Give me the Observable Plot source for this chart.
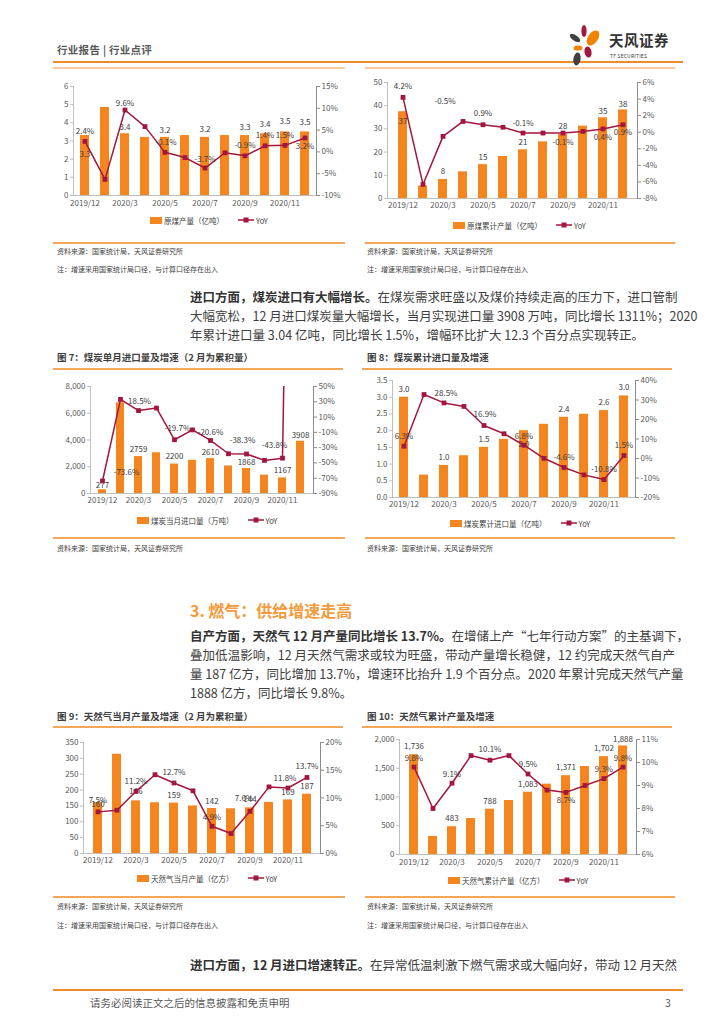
<!DOCTYPE html>
<html><head><meta charset="utf-8">
<script src="https://cdn.jsdelivr.net/npm/d3@7"></script>
<script src="https://cdn.jsdelivr.net/npm/@observablehq/plot@0.6"></script>
<style>
body{margin:0;background:#fff;font-family:"Noto Sans CJK SC","Noto Sans",sans-serif;}
#page{position:relative;width:724px;height:1024px;overflow:hidden;background:#fff;}
.lg{position:absolute;display:flex;align-items:center;font-size:7.5px;color:#404040;white-space:nowrap;}
</style></head>
<body><div id="page"></div>
<script>
// ---------- data ----------
const months = ["2019/12","2020/2","2020/3","2020/4","2020/5","2020/6","2020/7","2020/8","2020/9","2020/10","2020/11","2020/12"];
const tickMonths = ["2019/12","2020/3","2020/5","2020/7","2020/9","2020/11"];

const coalOutput    = [3.3,4.85,3.4,3.2,3.2,3.3,3.2,3.3,3.3,3.4,3.5,3.5];
const coalOutputYoY = [2.4,-6.3,9.6,5.8,-0.1,-1.3,-3.7,-0.2,-0.9,1.4,1.5,3.2];
const coalOutputTicks = [0,1,2,3,4,5,6];
const coalOutputYoYTicks = [-10,-5,0,5,10,15];

const coalCum    = [37.4,5.4,8.2,11.5,14.6,18.1,21.0,24.4,27.6,31.2,34.8,38.2];
const coalCumYoY = [4.2,-6.3,-0.5,1.3,0.9,0.6,-0.1,-0.1,-0.1,0.1,0.4,0.9];
const coalCumTicks = [0,10,20,30,40,50];
const coalCumYoYTicks = [-8,-6,-4,-2,0,2,4,6];

const coalImport    = [277,6780,2759,3050,2200,2480,2610,2060,1868,1370,1167,3908];
const coalImportYoY = [-73.6,33.1,18.5,21.8,-19.7,-6.8,-20.6,-38.0,-38.3,-46.7,-43.8,1311];
const coalImportTicks = [0,2000,4000,6000,8000];
const coalImportYoYTicks = [-90,-70,-50,-30,-10,10,30,50];

const coalImpCum    = [3.0,0.67,0.96,1.25,1.5,1.74,2.0,2.19,2.4,2.49,2.6,3.04];
const coalImpCumYoY = [6.3,32.8,28.5,26.7,16.9,12.7,6.8,0.1,-4.6,-8.4,-10.8,1.5];
const coalImpCumTicks = [0,0.5,1,1.5,2,2.5,3,3.5];
const coalImpCumYoYTicks = [-20,-10,0,10,20,30,40];

const gasOutput    = [160,313,166,160,159,150,142,141,144,161,169,187];
const gasOutputYoY = [7.5,7.8,11.2,14.2,12.7,11.3,4.9,3.6,7.6,12.0,11.8,13.7];
const gasOutputTicks = [0,50,100,150,200,250,300,350];
const gasOutputYoYTicks = [0,5,10,15,20];

const gasCum    = [1736,313,483,626,788,939,1083,1223,1371,1530,1702,1888];
const gasCumYoY = [9.8,8.0,9.1,10.3,10.1,10.3,9.5,8.8,8.7,9.0,9.3,9.8];
const gasCumTicks = [0,500,1000,1500,2000];
const gasCumYoYTicks = [6,7,8,9,10,11];

// ---------- styles ----------
const ORANGE = "#F5861F";
const RED = "#A3163D";
const FONT = "'Noto Sans CJK SC','Noto Sans',sans-serif";
const page = document.getElementById("page");

function el(tag, css, html){const e=document.createElement(tag);e.style.cssText="position:absolute;"+css;if(html!=null)e.innerHTML=html;page.appendChild(e);return e;}
function txt(x,y,s,size,color,extra=""){const lh=size*1.3;return el("div",`left:${x}px;top:${y-lh/2}px;font-size:${size}px;line-height:${lh}px;color:${color};white-space:nowrap;${extra}`,s);}
function hline(x1,x2,y,w,color){el("div",`left:${x1}px;top:${y-w/2}px;width:${x2-x1}px;height:${w}px;background:${color}`);}
function para(x,y,w,html,justify){const lh=16;return el("div",`left:${x}px;top:${y-lh/2}px;width:${w}px;font-size:12.5px;line-height:${lh}px;color:#404040;white-space:nowrap;${justify?"text-align:justify;text-align-last:justify;":""}`,html);}

// ---------- header ----------
txt(57,50,"行业报告&nbsp;|&nbsp;行业点评",10.5,"#595959","font-weight:bold;letter-spacing:0.3px");
hline(53,683,62,2,"#EE8A2A");
el("div","left:568px;top:22px;width:40px;height:46px",
 `<svg width="40" height="46" viewBox="0 0 40 46">
  <ellipse cx="16" cy="9" rx="2.6" ry="6" fill="#A3163D"/>
  <ellipse cx="7" cy="16" rx="2.8" ry="6" fill="#404040" transform="rotate(-55 7 16)"/>
  <ellipse cx="25" cy="16" rx="5" ry="8.5" fill="#F08300" transform="rotate(35 25 16)"/>
  <ellipse cx="10" cy="26" rx="4.5" ry="2.6" fill="#F08300"/>
  <ellipse cx="9" cy="37" rx="3.6" ry="6.5" fill="#404040" transform="rotate(10 9 37)"/>
  <ellipse cx="20" cy="30" rx="3.5" ry="5.5" fill="#A3163D" transform="rotate(-10 20 30)"/>
 </svg>`);
txt(609,40,"天风证券",14.5,"#333","font-weight:bold;letter-spacing:0.5px");
txt(610,56,"TF SECURITIES",5,"#333","letter-spacing:0.2px");

// panel top lines
hline(53,345,68,1.5,"#F9C9A0");
hline(365,675,68,1.5,"#F9C9A0");

// ---------- chart builder ----------
function dualChart(c){
  const data = months.map((m,i)=>({m,i,v:c.bars[i],r:c.yoy[i]}));
  const common = {width:c.w,height:c.h,marginTop:c.mt,marginRight:c.mr,marginBottom:c.mb,marginLeft:c.ml,
    style:{fontFamily:FONT,fontSize:"8px",color:"#595959",background:"transparent",overflow:"visible"}};
  const xs = {type:"band",domain:months,paddingInner:0.55,paddingOuter:0.3,label:null};
  const barPlot = Plot.plot({...common,
    x:{...xs}, y:{domain:c.yDomain,label:null},
    marks:[
      Plot.barY(data,{x:"m",y:"v",fill:ORANGE}),
      Plot.frame({anchor:"bottom",stroke:"#bfbfbf"}),
      Plot.frame({anchor:"left",stroke:"#bfbfbf"}),
      Plot.axisY({ticks:c.yTicks,tickFormat:c.yFmt,tickSize:3,tickPadding:2,label:null,stroke:"#bfbfbf"}),
      Plot.axisX({ticks:tickMonths,tickSize:0,tickPadding:c.xPad,label:null}),
      ...c.barLabels.map(l=>Plot.text([data[l.i]],{x:"m",y:"v",text:d=>c.barFmt(d.v),dy:l.dy,dx:l.dx||0,fill:"#404040",fontSize:8}))
    ]});
  const linePlot = Plot.plot({...common,
    x:{...xs,axis:null}, y:{domain:c.rDomain,label:null},
    marks:[
      Plot.axisY({anchor:"right",ticks:c.rTicks,tickFormat:d=>d+"%",tickSize:3,tickPadding:2,label:null,stroke:"#8c8c8c"}),
      Plot.frame({anchor:"right",stroke:"#8c8c8c"}),
      Plot.line(data,{x:"m",y:"r",stroke:RED,strokeWidth:1.5,clip:true}),
      Plot.dot(data,{x:"m",y:"r",symbol:"square",r:2.7,fill:RED,clip:true}),
      ...c.yoyLabels.map(l=>Plot.text([data[l.i]],{x:"m",y:"r",text:d=>d.r.toFixed(1)+"%",dy:l.dy,dx:l.dx||0,fill:"#404040",fontSize:8}))
    ]});
  const box = el("div",`left:${c.left}px;top:${c.top}px;width:${c.w}px;height:${c.h}px`);
  for(const p of [barPlot,linePlot]){p.style.position="absolute";p.style.left="0";p.style.top="0";box.appendChild(p);}
  // legend
  const lg = el("div",`left:${c.lx}px;top:${c.ly-6}px;height:12px`);
  lg.className="lg";
  lg.innerHTML = `<span style="display:inline-block;width:12px;height:7px;background:${ORANGE};margin-right:2px"></span><span>${c.legend}</span>`+
   `<svg width="16" height="8" style="margin-left:14px;margin-right:2px"><line x1="0" y1="4" x2="16" y2="4" stroke="${RED}" stroke-width="1.5"/><rect x="5.5" y="1.5" width="5" height="5" fill="${RED}"/></svg><span>YoY</span>`;
}

const f1 = d3.format(".1f"), f0 = d3.format(".0f"), fc = d3.format(",");

// Chart 1
dualChart({left:40,top:75,w:320,h:140,mt:11,mr:44,mb:20,ml:33,xPad:5,
  bars:coalOutput,yoy:coalOutputYoY,yDomain:[0,6],yTicks:coalOutputTicks,yFmt:f0,
  rDomain:[-10,15],rTicks:coalOutputYoYTicks,barFmt:f1,
  barLabels:[{i:0,dy:19},{i:2,dy:-6},{i:4,dy:-7},{i:6,dy:-8},{i:8,dy:-8},{i:9,dy:-9},{i:10,dy:-10},{i:11,dy:-9}],
  yoyLabels:[{i:0,dy:-10},{i:2,dy:-7},{i:4,dy:-10,dx:1},{i:6,dy:-9},{i:8,dy:-10},{i:9,dy:-10},{i:10,dy:-10},{i:11,dy:8}],
  legend:"原煤产量（亿吨）",lx:150,ly:220});

// Chart 2
dualChart({left:360,top:75,w:320,h:140,mt:7,mr:43,mb:17,ml:27,xPad:4,
  bars:coalCum,yoy:coalCumYoY,yDomain:[0,50],yTicks:coalCumTicks,yFmt:f0,
  rDomain:[-8,6],rTicks:coalCumYoYTicks,barFmt:f0,
  barLabels:[{i:0,dy:10},{i:2,dy:-8},{i:4,dy:-7},{i:6,dy:-7},{i:8,dy:-8},{i:10,dy:-6},{i:11,dy:-5}],
  yoyLabels:[{i:0,dy:-11},{i:2,dy:-35,dx:2},{i:4,dy:-11},{i:6,dy:-10},{i:8,dy:9},{i:10,dy:9},{i:11,dy:8}],
  legend:"原煤累计产量（亿吨）",lx:453,ly:225});

// Chart 7
dualChart({left:40,top:378,w:320,h:135,mt:8,mr:47,mb:20,ml:50,xPad:4,
  bars:coalImport,yoy:coalImportYoY,yDomain:[0,8000],yTicks:coalImportTicks,yFmt:fc,
  rDomain:[-90,50],rTicks:coalImportYoYTicks,barFmt:f0,
  barLabels:[{i:0,dy:-4},{i:2,dy:-7},{i:4,dy:-8},{i:6,dy:-6},{i:8,dy:-6},{i:10,dy:-7},{i:11,dy:-6}],
  yoyLabels:[{i:0,dy:-9,dx:24},{i:2,dy:-9,dx:1},{i:4,dy:-11,dx:3},{i:6,dy:-8},{i:8,dy:-14,dx:-4},{i:10,dy:-13,dx:-8}],
  legend:"煤炭当月进口量（万吨）",lx:137,ly:520});

// Chart 8
dualChart({left:360,top:373,w:320,h:145,mt:7,mr:45,mb:21,ml:32,xPad:4,
  bars:coalImpCum,yoy:coalImpCumYoY,yDomain:[0,3.5],yTicks:coalImpCumTicks,yFmt:f1,
  rDomain:[-20,40],rTicks:coalImpCumYoYTicks,barFmt:f1,
  barLabels:[{i:0,dy:-8},{i:2,dy:-8},{i:4,dy:-8},{i:6,dy:14},{i:8,dy:-8},{i:10,dy:-8},{i:11,dy:-8}],
  yoyLabels:[{i:0,dy:-10},{i:2,dy:-9,dx:2},{i:4,dy:-11,dx:1},{i:6,dy:-9},{i:8,dy:-10},{i:10,dy:-10},{i:11,dy:-10}],
  legend:"煤炭累计进口量（亿吨）",lx:450,ly:523});

// Chart 9
dualChart({left:40,top:735,w:320,h:140,mt:7,mr:40,mb:22,ml:43,xPad:4,
  bars:gasOutput,yoy:gasOutputYoY,yDomain:[0,350],yTicks:gasOutputTicks,yFmt:f0,
  rDomain:[0,20],rTicks:gasOutputYoYTicks,barFmt:f0,
  barLabels:[{i:0,dy:2},{i:2,dy:-9},{i:4,dy:-8},{i:6,dy:-7},{i:8,dy:-8},{i:10,dy:-7},{i:11,dy:-8}],
  yoyLabels:[{i:0,dy:-11},{i:2,dy:-10},{i:4,dy:-11},{i:6,dy:-9},{i:8,dy:-13,dx:-6},{i:10,dy:-10,dx:-3},{i:11,dy:-11}],
  legend:"天然气当月产量（亿方）",lx:137,ly:878});

// Chart 10
dualChart({left:360,top:732,w:320,h:145,mt:7,mr:44,mb:23,ml:39,xPad:5,
  bars:gasCum,yoy:gasCumYoY,yDomain:[0,2000],yTicks:gasCumTicks,yFmt:fc,
  rDomain:[6,11],rTicks:gasCumYoYTicks,barFmt:fc,
  barLabels:[{i:0,dy:-8},{i:2,dy:-8},{i:4,dy:-8},{i:6,dy:-8},{i:8,dy:-8},{i:10,dy:-8},{i:11,dy:-7}],
  yoyLabels:[{i:0,dy:-9},{i:2,dy:-9},{i:4,dy:-11},{i:6,dy:-10},{i:8,dy:8},{i:10,dy:-9},{i:11,dy:-9}],
  legend:"天然气累计产量（亿方）",lx:448,ly:880});

// ---------- chart frames / captions ----------
const SRC = "资料来源：国家统计局，天风证券研究所";
const NOTE = "注：增速采用国家统计局口径，与计算口径存在出入";
hline(53,345,243,1.5,"#F5A65B"); hline(365,675,243,1.5,"#F5A65B");
txt(57,252,SRC,7,"#404040"); txt(367,252,SRC,7,"#404040");
txt(57,270,NOTE,7,"#404040"); txt(367,270,NOTE,7,"#404040");

para(190,297,485,`<b style="color:#333">进口方面，煤炭进口有大幅增长。</b>在煤炭需求旺盛以及煤价持续走高的压力下，进口管制`,true);
para(190,316,485,`大幅宽松，12 月进口煤炭量大幅增长，当月实现进口量 3908 万吨，同比增长 1311%；2020`,true);
para(190,335,485,`年累计进口量 3.04 亿吨，同比增长 1.5%，增幅环比扩大 12.3 个百分点实现转正。`,false);

txt(57,357,"图 7：煤炭单月进口量及增速（2 月为累积量）",9.5,"#404040","font-weight:bold");
txt(367,357,"图 8：煤炭累计进口量及增速",9.5,"#404040","font-weight:bold");
hline(53,343,369,1.5,"#F5A65B"); hline(362,672,369,1.5,"#F5A65B");
hline(53,345,538,1.5,"#F5A65B"); hline(365,675,538,1.5,"#F5A65B");
txt(57,549,SRC,7,"#404040"); txt(367,549,SRC,7,"#404040");

txt(190,610,"3. 燃气：供给增速走高",16,"#F39A3C","font-weight:bold");
para(190,636,485,`<b style="color:#333">自产方面，天然气 12 月产量同比增长 13.7%。</b>在增储上产“七年行动方案”的主基调下，`,true);
para(190,655,485,`叠加低温影响，12 月天然气需求或较为旺盛，带动产量增长稳健，12 约完成天然气自产`,true);
para(190,674,485,`量 187 亿方，同比增加 13.7%，增速环比抬升 1.9 个百分点。2020 年累计完成天然气产量`,true);
para(190,693,485,`1888 亿方，同比增长 9.8%。`,false);

txt(57,716,"图 9：天然气当月产量及增速（2 月为累积量）",9.5,"#404040","font-weight:bold");
txt(367,716,"图 10：天然气累计产量及增速",9.5,"#404040","font-weight:bold");
hline(53,343,727,1.5,"#F5A65B"); hline(362,672,727,1.5,"#F5A65B");
hline(53,345,897,1.5,"#F5A65B"); hline(365,675,897,1.5,"#F5A65B");
txt(57,907,SRC,7,"#404040"); txt(367,907,SRC,7,"#404040");
txt(57,926,NOTE,7,"#404040"); txt(367,926,NOTE,7,"#404040");

para(190,965,485,`<b style="color:#333">进口方面，12 月进口增速转正。</b>在异常低温刺激下燃气需求或大幅向好，带动 12 月天然`,true);

hline(53,683,990,2,"#EE8A2A");
txt(90,1003,"请务必阅读正文之后的信息披露和免责申明",10.5,"#595959");
txt(665,1003,"3",10.5,"#595959");
</script></body></html>
